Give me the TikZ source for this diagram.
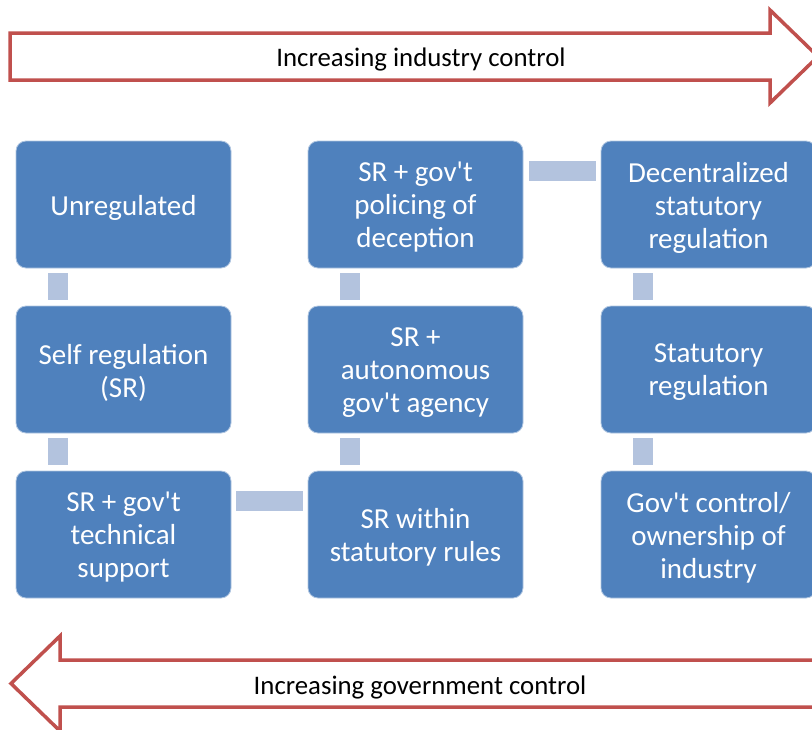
\documentclass[tikz,border=0pt]{standalone}
\usepackage{fontspec}
\newfontfamily\calfont{Carlito}
\usetikzlibrary{calc}
\definecolor{boxblue}{HTML}{4F81BD}
\definecolor{linkblue}{HTML}{B3C3DE}
\definecolor{arrowred}{HTML}{C0504D}
\tikzset{
  stagebox/.style={rounded corners=10pt, fill=boxblue, draw=white!55!boxblue, line width=0.8pt,
    minimum width=215pt, minimum height=127pt, inner sep=0pt},
  stagetext/.style={text=white, align=center, inner sep=0pt,
    font=\calfont\fontsize{29}{33}\selectfont},
  linkbar/.style={fill=linkblue, draw=none},
  bigarrow/.style={draw=arrowred, fill=white, line width=3.5pt, line join=miter},
  arrowtext/.style={font=\calfont\fontsize{26.8}{30}\selectfont, text=black, inner sep=0pt}
}
\newcommand\stage[4]{%
  \node[stagebox] (#1) at (#2,#3) {};
  \node[stagetext] (#1-t) at ($(#1.center)+(0,3)$) {#4};
}
\begin{document}
\begin{tikzpicture}[x=1pt,y=-1pt]
\useasboundingbox (0,0) rectangle (812,729);
\clip (0,0) rectangle (812,729);
% arrows
\draw[bigarrow] (10,33) -- (770,33) -- (770,10) -- (818,56.5) -- (770,103) -- (770,80) -- (10,80) -- cycle;
\node[arrowtext] (top) at (421,59) {Increasing industry control};
\draw[bigarrow] (11,683.5) -- (60,636) -- (60,660) -- (840,660) -- (840,707) -- (60,707) -- (60,731) -- cycle;
\node[arrowtext] (bot) at (420,687) {Increasing government control};
% boxes
\stage{unreg}{123.5}{204.5}{Unregulated}
\stage{self}{123.5}{369.5}{Self regulation\\(SR)}
\stage{tech}{123.5}{534.5}{SR + gov\char"27 t\\technical\\support}
\stage{police}{415.5}{204.5}{SR + gov\char"27 t\\policing of\\deception}
\stage{auto}{415.5}{369.5}{SR +\\autonomous\\gov\char"27 t agency}
\stage{within}{415.5}{534.5}{SR within\\statutory rules}
\stage{decen}{708.5}{204.5}{Decentralized\\statutory\\regulation}
\stage{stat}{708.5}{369.5}{Statutory\\regulation}
\stage{gov}{708.5}{534.5}{Gov\char"27 t control/\\ownership of\\industry}
% connectors (vertical)
\fill[linkbar] ($(unreg.south west)+(32.5,5)$) rectangle ($(self.north west)+(52.5,-6)$);
\fill[linkbar] ($(self.south west)+(32.5,5)$) rectangle ($(tech.north west)+(52.5,-6)$);
\fill[linkbar] ($(within.north west)+(32.5,-6)$) rectangle ($(auto.south west)+(52.5,5)$);
\fill[linkbar] ($(auto.north west)+(32.5,-6)$) rectangle ($(police.south west)+(52.5,5)$);
\fill[linkbar] ($(decen.south west)+(32.5,5)$) rectangle ($(stat.north west)+(52.5,-6)$);
\fill[linkbar] ($(stat.south west)+(32.5,5)$) rectangle ($(gov.north west)+(52.5,-6)$);
% connectors (horizontal)
\fill[linkbar] ($(tech.north east)+(5,20)$) rectangle ($(within.north west)+(-5,40)$);
\fill[linkbar] ($(police.north east)+(6,20)$) rectangle ($(decen.north west)+(-5,40)$);
\end{tikzpicture}
\end{document}
